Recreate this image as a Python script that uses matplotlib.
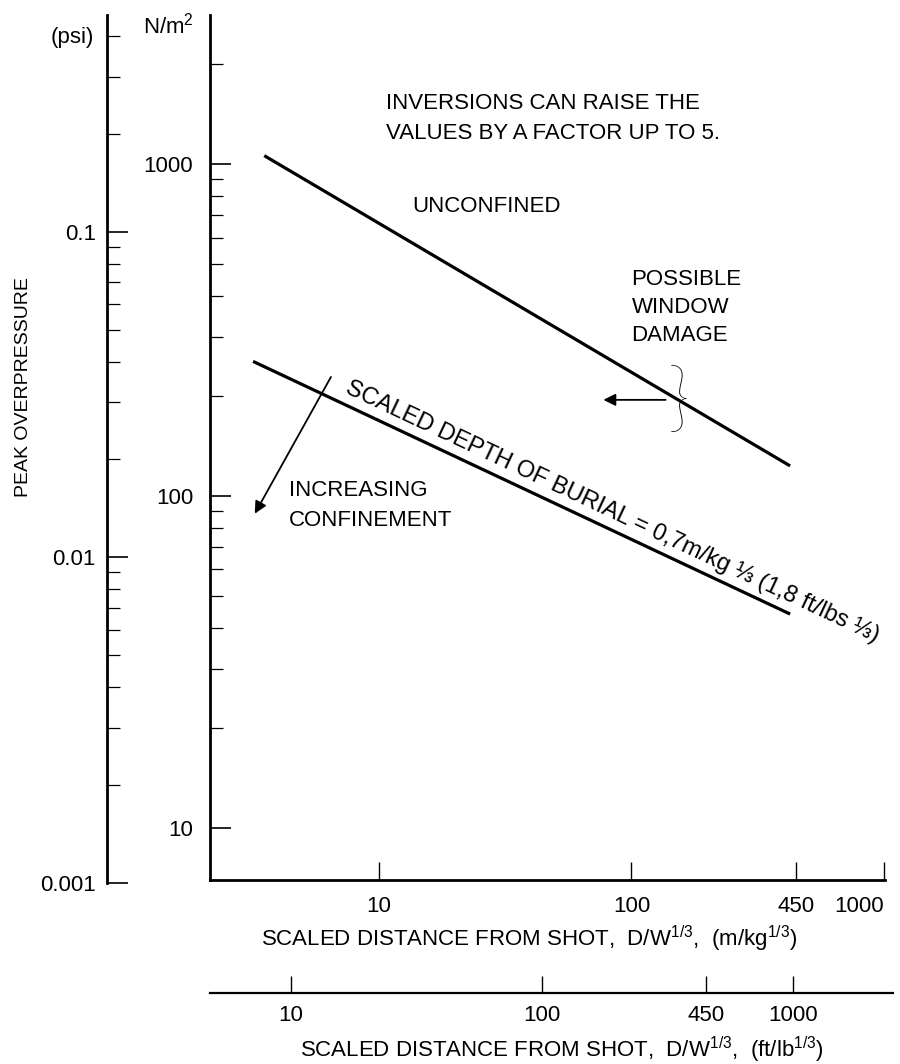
import numpy as np
import matplotlib
matplotlib.use('Agg')
import matplotlib.pyplot as plt
from matplotlib.ticker import FixedLocator, FixedFormatter, NullLocator, NullFormatter

plt.rcParams['font.family'] = ['Liberation Sans', 'DejaVu Sans']
plt.rcParams['mathtext.fontset'] = 'custom'
plt.rcParams['mathtext.rm'] = 'Liberation Sans'
plt.rcParams['mathtext.it'] = 'Liberation Sans:italic'
plt.rcParams['mathtext.bf'] = 'Liberation Sans:bold'

''' values read off the figure '''

# scaled distance in m/kg^1/3, overpressure in N/m2
unconfined_x = [3.51, 425]
unconfined_y = [1059, 123]
buried_x = [3.17, 425]
buried_y = [254, 44]

x_ticks = [10, 100, 450, 1000]
x_labels = ['10', '100', '450', '1000']
ft_ticks = [10, 100, 450, 1000]
ft_labels = ['10', '100', '450', '1000']

p_ticks = [10, 100, 1000]
p_labels = ['10', '100', '1000']
p_minor = [m * 10**e for e in (1, 2, 3) for m in range(2, 10)]

psi_ticks = [0.001, 0.01, 0.1]
psi_labels = ['0.001', '0.01', '0.1']
psi_minor = [m * 10.0**e for e in (-3, -2, -1) for m in range(2, 10)]

# annotation anchors (data coords)
window_arrow = [(136.5, 194.5), (77.4, 194.5)]
confine_arrow = [(6.45, 228), (3.22, 88.3)]
brace_xy = (153.6, 191.0)
burial_label_x = 7.0

W, H = 900, 1064
fig = plt.figure(figsize=(9, 10.64), dpi=100)

''' main axes, N/m2 '''

ax = fig.add_axes([210 / W, 1 - 880 / H, 675 / W, 865 / H])
ax.patch.set_alpha(0)
ax.set_xscale('log')
ax.set_yscale('log')
ax.set_xlim(2.14, 1010)
ax.set_ylim(6.95, 2810)
for s in ('top', 'right'):
    ax.spines[s].set_visible(False)
for s in ('left', 'bottom'):
    ax.spines[s].set_linewidth(2.0)

ax.xaxis.set_major_locator(FixedLocator(x_ticks))
ax.xaxis.set_major_formatter(FixedFormatter(x_labels))
ax.xaxis.set_minor_locator(NullLocator())
ax.yaxis.set_major_locator(FixedLocator(p_ticks))
ax.yaxis.set_major_formatter(FixedFormatter(p_labels))
ax.yaxis.set_minor_locator(FixedLocator(p_minor))
ax.yaxis.set_minor_formatter(NullFormatter())
ax.tick_params(axis='x', which='major', direction='in', length=13, width=1.0,
               pad=11.5, labelsize=16)
ax.tick_params(axis='y', which='major', direction='in', length=15, width=1.2,
               pad=12, labelsize=16)
ax.tick_params(axis='y', which='minor', direction='in', length=9, width=0.9)
# last label sits at the right edge of the page
ax.get_xticklabels()[-1].set_horizontalalignment('right')

ax.plot(unconfined_x, unconfined_y, color='k', lw=2.3, solid_capstyle='butt')
ax.plot(buried_x, buried_y, color='k', lw=2.3, solid_capstyle='butt')

ax.annotate('N/m$^2$', xy=(0, 1), xycoords='axes fraction', xytext=(-16, -11),
            textcoords='offset pixels', ha='right', va='center', fontsize=16)

''' psi axis '''

axp = fig.add_axes([107 / W, 1 - 883 / H, 0.02, 868 / H])
axp.patch.set_alpha(0)
axp.set_yscale('log')
axp.set_ylim(0.001, 0.464)
axp.set_xticks([])
for s in ('top', 'right', 'bottom'):
    axp.spines[s].set_visible(False)
axp.spines['left'].set_linewidth(2.0)
axp.yaxis.set_major_locator(FixedLocator(psi_ticks))
axp.yaxis.set_major_formatter(FixedFormatter(psi_labels))
axp.yaxis.set_minor_locator(FixedLocator(psi_minor))
axp.yaxis.set_minor_formatter(NullFormatter())
axp.tick_params(axis='y', which='major', direction='in', length=15, width=1.2,
                pad=8, labelsize=16)
axp.tick_params(axis='y', which='minor', direction='in', length=9, width=0.9)
axp.annotate('(psi)', xy=(0, 0.4), xycoords=('axes fraction', 'data'),
             xytext=(-13, -2), textcoords='offset pixels', ha='right', va='center',
             fontsize=16)

''' ft/lb axis '''

axf = fig.add_axes([210 / W, 1 - 993 / H, 683 / W, 0.0001])
axf.patch.set_alpha(0)
axf.set_xscale('log')
axf.set_xlim(4.76, 2500)
axf.set_yticks([])
for s in ('top', 'right', 'left'):
    axf.spines[s].set_visible(False)
axf.spines['bottom'].set_linewidth(1.6)
axf.xaxis.set_major_locator(FixedLocator(ft_ticks))
axf.xaxis.set_major_formatter(FixedFormatter(ft_labels))
axf.xaxis.set_minor_locator(NullLocator())
axf.tick_params(axis='x', which='major', direction='in', length=12, width=1.0,
                pad=8.3, labelsize=16)

''' titles '''

fig.text(529 / W, 1 - 939 / H, 'SCALED DISTANCE FROM SHOT,  D/W$^{1/3}$,  (m/kg$^{1/3}$)',
         ha='center', va='center', fontsize=16)
fig.text(562 / W, 1 - 1050 / H, 'SCALED DISTANCE FROM SHOT,  D/W$^{1/3}$,  (ft/lb$^{1/3}$)',
         ha='center', va='center', fontsize=16)
fig.text(24 / W, 1 - 387 / H, 'PEAK OVERPRESSURE', rotation=90,
         ha='center', va='center', fontsize=14)

''' notes '''

def note(lines, x, y, step):
    for i, t in enumerate(lines):
        ax.annotate(t, xy=(x, y), xytext=(0, -step * i), textcoords='offset pixels',
                    ha='left', va='center', fontsize=16)

note(['INVERSIONS CAN RAISE THE', 'VALUES BY A FACTOR UP TO 5.'], 10.66, 1516, 29.5)
note(['UNCONFINED'], 13.6, 742, 0)
note(['POSSIBLE', 'WINDOW', 'DAMAGE'], 100.0, 447, 27.8)
note(['INCREASING', 'CONFINEMENT'], 4.39, 103.5, 30)

arrow = dict(arrowstyle='-|>', color='k', lw=1.3, mutation_scale=18,
             shrinkA=0, shrinkB=0)
ax.annotate('', xy=window_arrow[1], xytext=window_arrow[0], arrowprops=arrow)
ax.annotate('', xy=confine_arrow[1], xytext=confine_arrow[0], arrowprops=arrow)

ax.text(brace_xy[0], brace_xy[1], '}', family=['Lato', 'Liberation Sans'],
        fontweight=100, fontsize=55, ha='center', va='center')

# label running along the buried line
p0 = ax.transData.transform((buried_x[0], buried_y[0]))
p1 = ax.transData.transform((buried_x[1], buried_y[1]))
ang = np.degrees(np.arctan2(p1[1] - p0[1], p1[0] - p0[0]))
ylab = 10 ** np.interp(np.log10(burial_label_x), np.log10(buried_x), np.log10(buried_y))
a = np.radians(ang)
off = 11
ax.annotate('SCALED DEPTH OF BURIAL = 0,7m/kg \u2153 (1,8 ft/lbs \u2153)',
            xy=(burial_label_x, ylab), xytext=(-np.sin(a) * off, np.cos(a) * off),
            textcoords='offset pixels', rotation=ang, rotation_mode='anchor',
            ha='left', va='baseline', fontsize=17)

plt.savefig('out.png', dpi=100)
